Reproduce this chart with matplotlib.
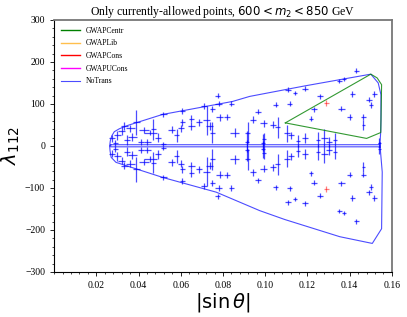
import numpy as np
import matplotlib
matplotlib.use("Agg")
import matplotlib.pyplot as plt
from matplotlib.ticker import MultipleLocator

plt.rcParams['font.family'] = 'Liberation Serif'
plt.rcParams['mathtext.fontset'] = 'dejavusans'

# Punkte mit lambda > 0 (die Grafik ist an lambda = 0 gespiegelt)
sin_t = [0.0276, 0.0300, 0.0290, 0.0333, 0.0361, 0.0390, 0.0413, 0.0442, 0.0456, 0.0470,
         0.0518, 0.0556, 0.0580, 0.0600, 0.0608, 0.0608, 0.0650, 0.0650, 0.0518, 0.0320,
         0.0370, 0.0345, 0.0425, 0.0490, 0.0684, 0.0708, 0.0722, 0.0736, 0.0750, 0.0750,
         0.0774, 0.0779, 0.0784, 0.0817, 0.0840, 0.0855, 0.0917, 0.0940, 0.0964, 0.0993,
         0.0993, 0.1035, 0.1060, 0.1050, 0.0912, 0.0988, 0.1108, 0.1140, 0.1187, 0.1350,
         0.1374, 0.1432, 0.1258, 0.1116, 0.1413, 0.1492, 0.1516, 0.1500, 0.1360, 0.1231,
         0.1215, 0.1400, 0.1464, 0.1464, 0.1103, 0.1154, 0.1190, 0.1250, 0.1280, 0.1300,
         0.1330, 0.1120, 0.1540]
lam = [18, 25, 8, 47, 42, 56, 10, 9, 32, 40,
       75, 39, 25, 42, 84, 56, 47, 65, 4, 35,
       22, 14, 38, 20, 56, 96, 61, 47, 89, 32,
       120, 101, 68, 70, 101, 32, 32, 63, 82, 54,
       16, 51, 44, 98, 10, 8, 134, 126, 136, 155,
       160, 179, 118, 101, 124, 110, 124, 98, 89, 87,
       65, 69, 68, 50, 30, 12, 20, 15, 20, 10,
       15, 25, 8]
sin_err = [0.0014, 0.0017, 0.0012, 0.0017, 0.0022, 0.0017, 0.0014, 0.0017, 0.003, 0.0012,
           0.0015, 0.0017, 0.0012, 0.0014, 0.0012, 0.0014, 0.0017, 0.0012, 0.0012, 0.0017,
           0.0022, 0.0012, 0.0025, 0.0014, 0.0014, 0.0014, 0.0017, 0.0017, 0.0014, 0.0014,
           0.0012, 0.0017, 0.0017, 0.0014, 0.0012, 0.0022, 0.0012, 0.0014, 0.0014, 0.0017,
           0.001, 0.0014, 0.0012, 0.0012, 0.001, 0.001, 0.0014, 0.001, 0.0014, 0.0012,
           0.001, 0.0012, 0.0014, 0.0012, 0.0014, 0.0014, 0.0012, 0.001, 0.0017, 0.0012,
           0.001, 0.0012, 0.0012, 0.0008, 0.0014, 0.001, 0.0014, 0.001, 0.0017, 0.0014,
           0.001, 0.0014, 0.0008]
lam_err = [9, 11, 7, 9, 9, 30, 7, 7, 7, 25,
           7, 9, 15, 9, 7, 9, 9, 9, 5, 9,
           9, 11, 7, 11, 9, 7, 35, 9, 7, 25,
           6, 7, 9, 7, 7, 11, 25, 9, 6, 9,
           15, 9, 25, 6, 25, 20, 6, 5, 6, 5,
           5, 6, 6, 6, 7, 6, 7, 7, 6, 6,
           6, 6, 7, 11, 20, 15, 12, 18, 20, 12,
           15, 9, 10]

# GWAPCons Punkt
red_x = [0.129]
red_y = [103]

# Umrisse
notrans_x = [0.0263, 0.0266, 0.0273, 0.0285, 0.0309, 0.0349, 0.0513, 0.0845, 0.0926, 0.1187,
             0.1500, 0.1535, 0.1548, 0.1548, 0.1547, 0.1543, 0.1554, 0.1551, 0.1507, 0.1353,
             0.1092, 0.0974, 0.0768, 0.0515, 0.0293, 0.0270, 0.0265, 0.0263]
notrans_y = [0, 12, 24, 34, 41, 49, 75, 106, 118, 143,
             171, 150, 122, 63, 35, 4, -62, -197, -232, -216,
             -175, -154, -110, -75, -39, -27, -12, 0]
band_x = [0.0268, 0.1535, 0.1545, 0.1545, 0.1535, 0.0268, 0.0268]
band_y = [3, 3, 8, -4, -2, -2, 3]
centr_x = [0.1095, 0.1500, 0.1530, 0.1551, 0.1547, 0.1480, 0.1095]
centr_y = [55, 171, 162, 146, 32, 18, 55]

fig, ax = plt.subplots(figsize=(4.07, 3.17), dpi=100)
fig.subplots_adjust(left=0.133, right=0.963, top=0.937, bottom=0.142)

xs = np.concatenate([sin_t, sin_t])
ys = np.concatenate([lam, -np.array(lam)])
xe = np.concatenate([sin_err, sin_err])
ye = np.concatenate([lam_err, lam_err])

ax.plot([], [], color='green', lw=1, label='GWAPCentr')
ax.plot([], [], color='orange', lw=1, alpha=0.7, label='GWAPLib')
ax.plot([], [], color='red', lw=1, label='GWAPCons')
ax.plot([], [], color='magenta', lw=1, label='GWAPUCons')
ax.plot(notrans_x, notrans_y, color='blue', lw=0.8, alpha=0.7, label='NoTrans')
ax.plot(band_x, band_y, color='blue', lw=0.8, alpha=0.7)

ax.errorbar(xs, ys, xerr=xe, yerr=ye, fmt='none', ecolor='blue', elinewidth=0.9, alpha=0.7)
ax.errorbar(red_x + red_x, red_y + [-v for v in red_y], xerr=0.0014, yerr=7,
            fmt='none', ecolor='red', elinewidth=0.9, alpha=0.5)
ax.plot(centr_x, centr_y, color='green', lw=0.8, alpha=0.8)

ax.set_xlim(0, 0.16)
ax.set_ylim(-300, 300)
ax.xaxis.set_major_locator(MultipleLocator(0.02))
ax.xaxis.set_minor_locator(MultipleLocator(0.004))
ax.yaxis.set_major_locator(MultipleLocator(100))
ax.yaxis.set_minor_locator(MultipleLocator(20))
ax.set_xticks([0.02, 0.04, 0.06, 0.08, 0.10, 0.12, 0.14, 0.16])
ax.tick_params(labelsize=7, length=3, width=0.6)
ax.tick_params(which='minor', length=1.5, width=0.5)
for s in ['top', 'right']:
    ax.spines[s].set_color('#777777')
    ax.spines[s].set_linewidth(1.3)

ax.set_xlabel(r'$|\sin\theta|$', fontsize=14, labelpad=1)
ax.set_ylabel(r'$\lambda_{112}$', fontsize=14, labelpad=2)
ax.set_title(r'Only currently-allowed points, $600 < m_2 < 850$ GeV', fontsize=8.5, pad=3)
ax.legend(loc='upper left', fontsize=5.5, frameon=False, handlelength=2.5, labelspacing=0.6)

plt.savefig('out.png', dpi=100)
